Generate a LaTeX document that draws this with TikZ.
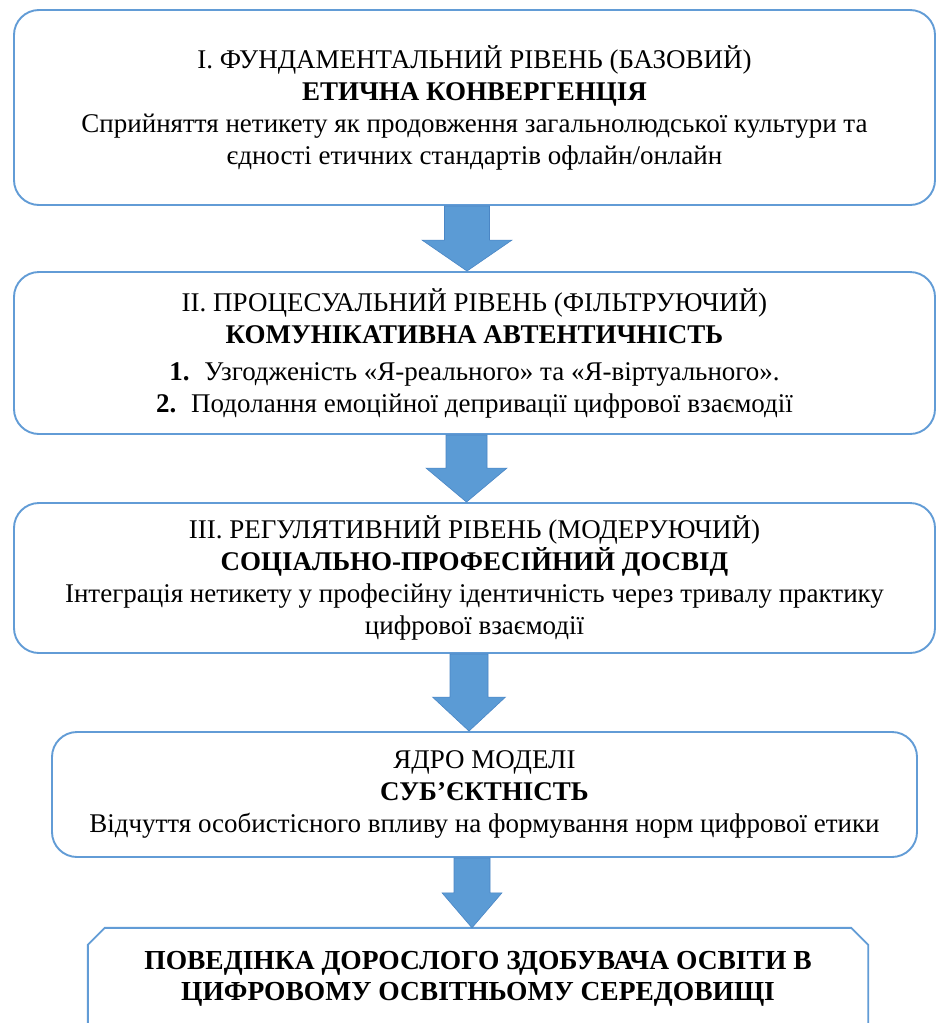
\documentclass[tikz,border=0pt]{standalone}
\usepackage{fontspec}
\setmainfont{Liberation Serif}
\usetikzlibrary{calc}
\definecolor{boxblue}{HTML}{629CD6}
\definecolor{arrowblue}{HTML}{5B9BD5}
\definecolor{arrowedge}{HTML}{4A86C5}
\newcommand\hd[1]{{\fontsize{27}{32}\selectfont\bfseries #1}}
\tikzset{
  stage/.style={draw=boxblue, line width=1.9pt, rounded corners=25pt, fill=white,
    align=center, inner sep=0pt, font=\fontsize{27}{32}\selectfont},
  finaltext/.style={align=center, inner sep=0pt, font=\fontsize{27.5}{31}\selectfont\bfseries},
  boxline/.style={draw=boxblue, line width=1.9pt, line join=round},
  blockarrow/.style={fill=arrowblue, draw=arrowedge, line width=0.6pt, line join=miter}
}
\begin{document}
\begin{tikzpicture}[x=1pt,y=-1pt]
\useasboundingbox (0,0) rectangle (939,1023);
\fill[white] (0,0) rectangle (939,1023);

\node[stage, minimum width=921pt, minimum height=195pt] (b1) at (474.5,107.5)
  {I. ФУНДАМЕНТАЛЬНИЙ РІВЕНЬ (БАЗОВИЙ)\\ \hd{ЕТИЧНА КОНВЕРГЕНЦІЯ}\\
   Сприйняття нетикету як продовження загальнолюдської культури та\\
   єдності етичних стандартів офлайн/онлайн};

\node[stage, minimum width=921pt, minimum height=162pt] (b2) at (474.5,353)
  {II. ПРОЦЕСУАЛЬНИЙ РІВЕНЬ (ФІЛЬТРУЮЧИЙ)\\ \hd{КОМУНІКАТИВНА АВТЕНТИЧНІСТЬ}\\[5pt]
   \textbf{1.}\hspace{0.55em}Узгодженість «Я-реального» та «Я-віртуального».\\
   \textbf{2.}\hspace{0.55em}Подолання емоційної депривації цифрової взаємодії};

\node[stage, minimum width=921pt, minimum height=150pt] (b3) at (474.5,578)
  {III. РЕГУЛЯТИВНИЙ РІВЕНЬ (МОДЕРУЮЧИЙ)\\ \hd{СОЦІАЛЬНО-ПРОФЕСІЙНИЙ ДОСВІД}\\
   Інтеграція нетикету у професійну ідентичність через тривалу практику\\
   цифрової взаємодії};

\node[stage, minimum width=865pt, minimum height=125pt] (b4) at (484.5,794.5)
  {ЯДРО МОДЕЛІ\\ \hd{СУБ’ЄКТНІСТЬ}\\
   Відчуття особистісного впливу на формування норм цифрової етики};

\node[finaltext, minimum width=780pt, minimum height=102pt] (b5) at (478,979)
  {ПОВЕДІНКА ДОРОСЛОГО ЗДОБУВАЧА ОСВІТИ В\\ ЦИФРОВОМУ ОСВІТНЬОМУ СЕРЕДОВИЩІ};
\draw[boxline] (b5.south west) -- ($(b5.north west)+(0,17)$) -- ($(b5.north west)+(17,0)$)
  -- ($(b5.north east)+(-17,0)$) -- ($(b5.north east)+(0,17)$) -- (b5.south east);

\draw[blockarrow] let \p1=($(b1.south)+(-7.5pt,0pt)$), \p2=(b2.north) in
  (\x1-22.5pt,\y1) -- (\x1-22.5pt,\y2+31pt) -- (\x1-45pt,\y2+31pt) -- (\x1,\y2)
  -- (\x1+45pt,\y2+31pt) -- (\x1+22.5pt,\y2+31pt) -- (\x1+22.5pt,\y1) -- cycle;
\draw[blockarrow] let \p1=($(b2.south)+(-8pt,0pt)$), \p2=(b3.north) in
  (\x1-20.5pt,\y1) -- (\x1-20.5pt,\y2+34pt) -- (\x1-40.5pt,\y2+34pt) -- (\x1,\y2)
  -- (\x1+40.5pt,\y2+34pt) -- (\x1+20.5pt,\y2+34pt) -- (\x1+20.5pt,\y1) -- cycle;
\draw[blockarrow] let \p1=($(b3.south)+(-5.5pt,0pt)$), \p2=(b4.north) in
  (\x1-19pt,\y1) -- (\x1-19pt,\y2+34pt) -- (\x1-36.5pt,\y2+34pt) -- (\x1,\y2)
  -- (\x1+36.5pt,\y2+34pt) -- (\x1+19pt,\y2+34pt) -- (\x1+19pt,\y1) -- cycle;
\draw[blockarrow] let \p1=($(b4.south)+(-12.5pt,0pt)$), \p2=(b5.north) in
  (\x1-18pt,\y1) -- (\x1-18pt,\y2+35pt) -- (\x1-30pt,\y2+35pt) -- (\x1,\y2)
  -- (\x1+30pt,\y2+35pt) -- (\x1+18pt,\y2+35pt) -- (\x1+18pt,\y1) -- cycle;
\end{tikzpicture}
\end{document}
